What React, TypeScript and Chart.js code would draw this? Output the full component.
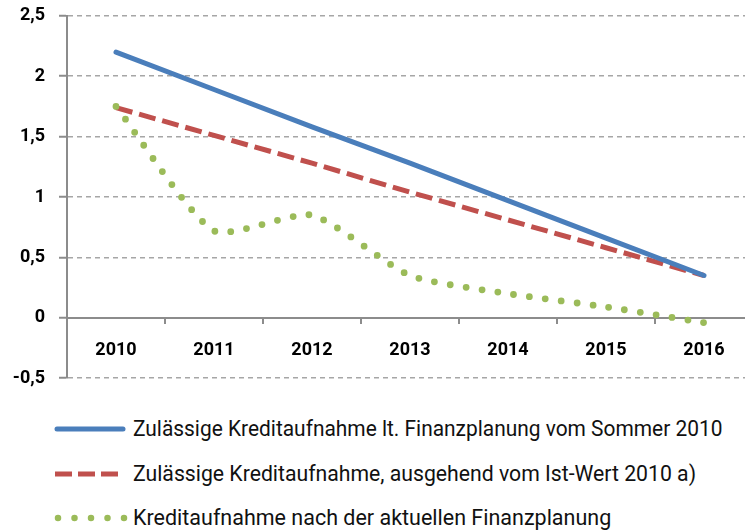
import React, { useEffect, useRef } from 'react';
import { Chart, registerables } from 'chart.js';

Chart.register(...registerables);

// ---- data ----
const years = ['2010', '2011', '2012', '2013', '2014', '2015', '2016'];
const planSommer2010 = [2.2, 1.89, 1.58, 1.28, 0.97, 0.66, 0.35];
const istWert2010 = [1.74, 1.51, 1.28, 1.04, 0.81, 0.58, 0.35];
const aktuellePlanung = [1.75, 0.72, 0.85, 0.35, 0.2, 0.09, -0.04];
const seriesLabels = [
  'Zulässige Kreditaufnahme lt. Finanzplanung vom Sommer 2010',
  'Zulässige Kreditaufnahme, ausgehend vom Ist-Wert 2010 a)',
  'Kreditaufnahme nach der aktuellen Finanzplanung',
];
const yTickValues = [-0.5, 0, 0.5, 1, 1.5, 2, 2.5];
const yTickLabels = ['-0,5', '0', '0,5', '1', '1,5', '2', '2,5'];

const BLUE = '#4A7EBB';
const RED = '#C0504D';
const GREEN = '#9BBB59';
const AXIS = '#8c8c8c';
const GRID = '#a6a6a6';
const FONT = 'Roboto';
const legendRowCenters = [429, 474, 518];
const legendTextScale = [0.95, 0.964, 0.977];

function LegendSample({ kind }: { kind: number }) {
  if (kind === 0) {
    return (
      <svg width={76} height={12} style={{ display: 'block' }}>
        <line x1={4} y1={6} x2={70} y2={6} stroke={BLUE} strokeWidth={5} strokeLinecap="round" />
      </svg>
    );
  }
  if (kind === 1) {
    return (
      <svg width={76} height={12} style={{ display: 'block' }}>
        <line x1={2} y1={6} x2={65} y2={6} stroke={RED} strokeWidth={5} strokeDasharray="17 6" />
      </svg>
    );
  }
  return (
    <svg width={76} height={12} style={{ display: 'block' }}>
      <line x1={5} y1={6} x2={72} y2={6} stroke={GREEN} strokeWidth={6.5} strokeLinecap="round" strokeDasharray="0 16.5" />
    </svg>
  );
}

export default function App() {
  const canvasRef = useRef<HTMLCanvasElement | null>(null);

  useEffect(() => {
    if (!canvasRef.current) return;
    const tickFont = { family: FONT, size: 18, weight: 'bold' as const };
    const chart = new Chart(canvasRef.current, {
      type: 'line',
      data: {
        labels: years,
        datasets: [
          {
            label: seriesLabels[0],
            data: planSommer2010,
            borderColor: BLUE,
            borderWidth: 5,
            pointRadius: 0,
            tension: 0,
            borderCapStyle: 'round',
            order: 1,
          },
          {
            label: seriesLabels[1],
            data: istWert2010,
            borderColor: RED,
            borderWidth: 5,
            borderDash: [17, 7],
            pointRadius: 0,
            tension: 0,
            order: 2,
          },
          {
            label: seriesLabels[2],
            data: aktuellePlanung,
            borderColor: GREEN,
            borderWidth: 6.8,
            borderDash: [0, 16],
            borderCapStyle: 'round',
            pointRadius: 0,
            tension: 0.2,
            order: 0,
          },
        ],
      },
      options: {
        responsive: false,
        animation: false,
        events: [],
        layout: { padding: { left: 0, top: 2, right: 7, bottom: 3 } },
        plugins: { legend: { display: false }, tooltip: { enabled: false }, title: { display: false } },
        scales: {
          x: {
            type: 'category',
            position: { y: 0 } as any,
            offset: true,
            grid: {
              display: true,
              drawOnChartArea: false,
              drawTicks: true,
              tickLength: 5,
              color: AXIS,
              lineWidth: 2,
              offset: true,
            },
            border: { display: true, color: AXIS, width: 2 },
            ticks: {
              color: '#000',
              font: tickFont,
              padding: 17,
              maxRotation: 0,
              autoSkip: false,
            },
          },
          y: {
            type: 'linear',
            min: -0.5,
            max: 2.5,
            afterBuildTicks: (s: any) => {
              s.ticks = yTickValues.map((v) => ({ value: v }));
            },
            afterFit: (s: any) => {
              s.width = 67;
            },
            grid: {
              color: (ctx: any) => (ctx.tick && ctx.tick.value === 0 ? 'rgba(0,0,0,0)' : GRID),
              lineWidth: 1.5,
              tickLength: 8,
              tickColor: AXIS,
              tickWidth: 2,
              tickBorderDash: [10, 0],
            } as any,
            border: { display: true, color: AXIS, width: 2, dash: [5, 4] },
            ticks: {
              color: '#000',
              font: tickFont,
              padding: 14,
              callback: (v: any) => {
                const i = yTickValues.indexOf(Number(v));
                return i >= 0 ? yTickLabels[i] : '';
              },
            },
          },
        },
      },
    });
    return () => chart.destroy();
  }, []);

  return (
    <div
      style={{
        position: 'fixed',
        left: 0,
        top: 0,
        width: 745,
        height: 531,
        overflow: 'hidden',
        background: '#fff',
      }}
    >
      <canvas ref={canvasRef} width={760} height={412} style={{ position: 'absolute', left: 0, top: -9 }} />
      {seriesLabels.map((label, i) => (
        <div
          key={label}
          style={{
            position: 'absolute',
            left: 53,
            top: legendRowCenters[i] - 15,
            height: 30,
            display: 'flex',
            alignItems: 'center',
            whiteSpace: 'nowrap',
          }}
        >
          <LegendSample kind={i} />
          <span
            style={{
              marginLeft: 4,
              fontFamily: FONT,
              fontSize: 22,
              color: '#111',
              lineHeight: '30px',
              display: 'inline-block',
              transform: `scaleX(${legendTextScale[i]})`,
              transformOrigin: 'left center',
            }}
          >
            {label}
          </span>
        </div>
      ))}
    </div>
  );
}
